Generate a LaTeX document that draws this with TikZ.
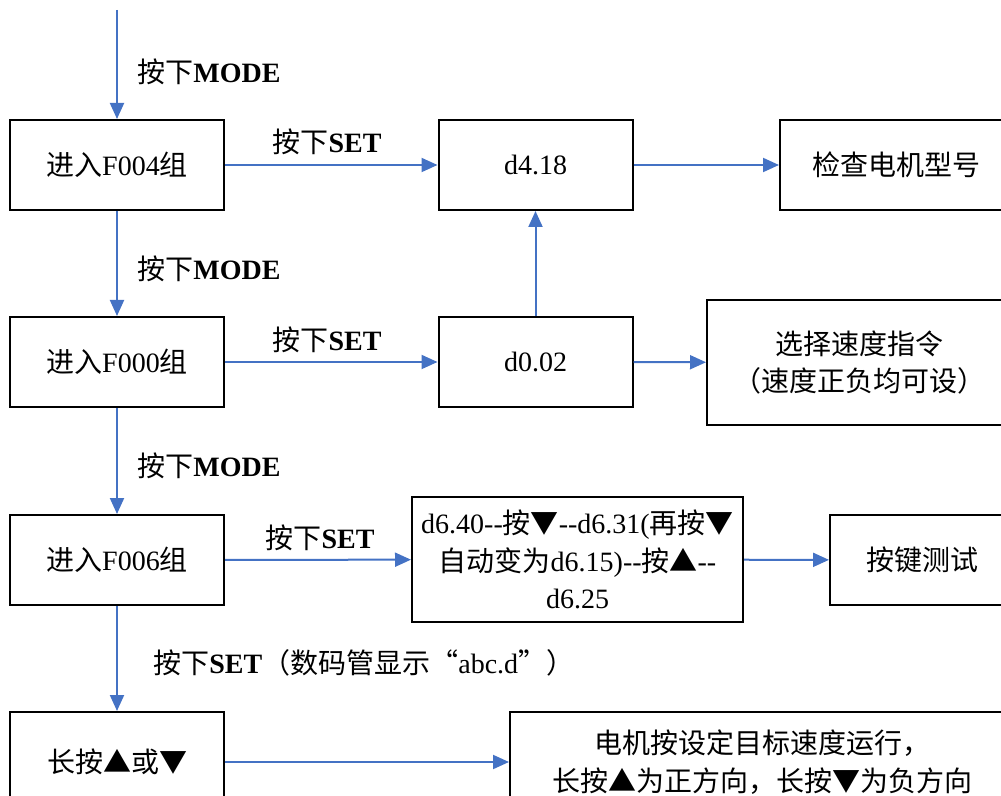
\documentclass[tikz,border=0pt]{standalone}
\usepackage{fontspec}
\setmainfont{Liberation Serif}
\newfontfamily\cjkfont{Noto Sans CJK SC}
\usetikzlibrary{arrows.meta}
\definecolor{flowblue}{HTML}{4472C4}
\newcommand{\zh}[1]{{\cjkfont #1}}
\newcommand{\hh}{\mbox{-}\mbox{-}}

\begin{document}
\begin{tikzpicture}[x=0.5pt,y=-0.5pt,
   font=\fontsize{14}{18.8}\selectfont,
   box/.style={draw,line width=1pt,minimum height=45pt,align=center,inner sep=1pt},
   lbl/.style={inner sep=0pt},
   arr/.style={draw=flowblue,line width=1pt,-{Triangle[length=8pt,width=7pt]}}]
   \useasboundingbox (0,0) rectangle (1001,796);
   \clip (0,0) rectangle (1001,796);
   % left column
   \coordinate (start) at (117,10);
   \node[box,minimum width=107pt] (f004) at (117,165) {\zh{进入}F004\zh{组}};
   \node[box,minimum width=107pt] (f000) at (117,362) {\zh{进入}F000\zh{组}};
   \node[box,minimum width=107pt] (f006) at (117,560) {\zh{进入}F006\zh{组}};
   \node[box,minimum width=107pt,minimum height=50pt] (longkey) at (117,762) {\zh{长按▲或▼}};
   % middle column
   \node[box,minimum width=97pt] (d418) at (535.5,165) {d4.18};
   \node[box,minimum width=97pt] (d002) at (535.5,362) {d0.02};
   \node[box,minimum width=165.5pt,minimum height=62.5pt] (d640) at (577.5,559.5)
      {d6.40\hh\zh{按▼}\hh d6.31(\zh{再按▼}\\\zh{自动变为}d6.15)\hh\zh{按▲}\hh\\d6.25};
   % right column
   \node[box,minimum width=116pt] (motortype) at (896,165) {\zh{检查电机型号}};
   \node[box,minimum width=152pt,minimum height=62.5pt] (speedcmd) at (859,362.5)
      {\zh{选择速度指令}\\\zh{（速度正负均可设）}};
   \node[box,minimum width=92pt] (keytest) at (922,560) {\zh{按键测试}};
   \node[box,minimum width=252pt,minimum height=50pt] (motorrun) at (762,762)
      {\zh{电机按设定目标速度运行，}\\\zh{长按▲为正方向，长按▼为负方向}};
   % connectors
   \draw[arr] (start) -- (f004.north);
   \draw[arr] (f004) -- (f000);
   \draw[arr] (f000) -- (f006);
   \draw[arr] (f006) -- (longkey);
   \draw[arr] (f004) -- (d418);
   \draw[arr] (f000) -- (d002);
   \draw[arr] (f006) -- (d640);
   \draw[arr] (longkey) -- (motorrun);
   \draw[arr] (d418) -- (motortype);
   \draw[arr] (d002.north) -- (d418.south);
   \draw[arr] (d002) -- (speedcmd);
   \draw[arr] (d640) -- (keytest);
   % labels
   \node[lbl,anchor=west] (mode1) at (137,72) {\zh{按下}\textbf{MODE}};
   \node[lbl,anchor=west] (mode2) at (137,269) {\zh{按下}\textbf{MODE}};
   \node[lbl,anchor=west] (mode3) at (137,466) {\zh{按下}\textbf{MODE}};
   \node[lbl,anchor=west] (set4) at (153,663) {\zh{按下}\textbf{SET}\zh{（数码管显示“}abc.d\zh{”）}};
   \node[lbl] (set1) at (327,142) {\zh{按下}\textbf{SET}};
   \node[lbl] (set2) at (327,340) {\zh{按下}\textbf{SET}};
   \node[lbl] (set3) at (320,538) {\zh{按下}\textbf{SET}};
\end{tikzpicture}
\end{document}
